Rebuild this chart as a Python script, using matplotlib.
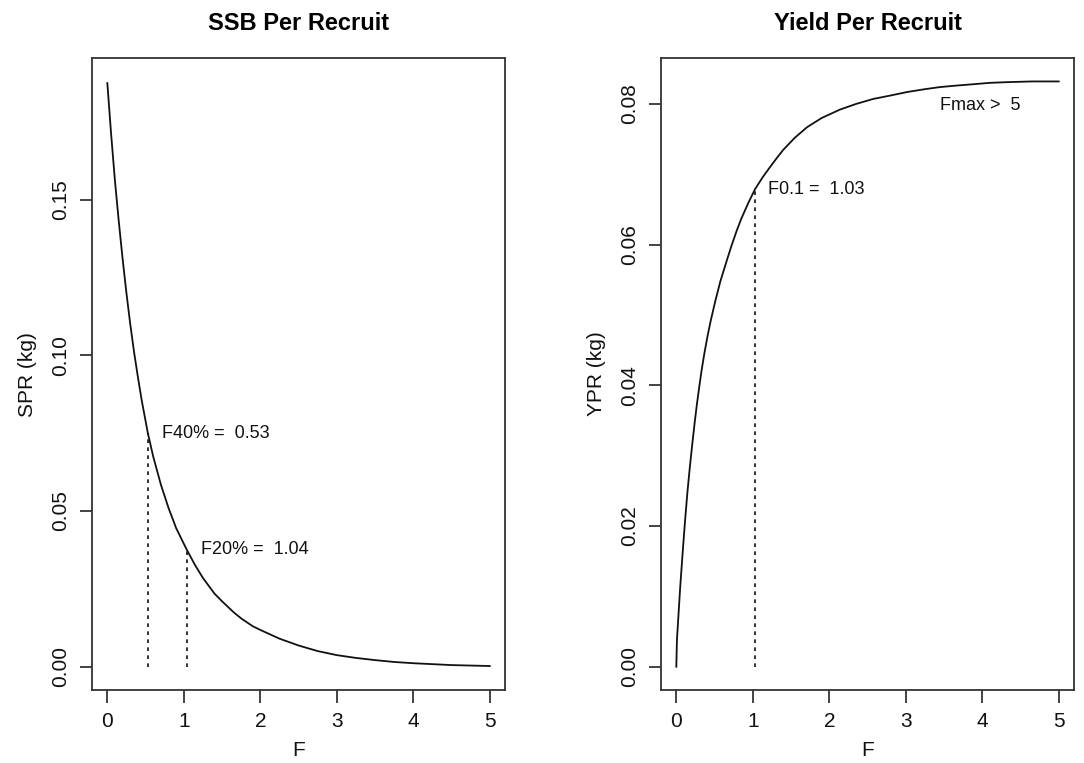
import numpy as np
import matplotlib
matplotlib.use("Agg")
import matplotlib.pyplot as plt

plt.rcParams['font.family'] = ['Liberation Sans', 'DejaVu Sans']

# SSB per recruit curve
F_spr = [0, 0.05, 0.1, 0.15, 0.2, 0.25, 0.3, 0.35, 0.4, 0.45, 0.53, 0.6,
         0.7, 0.8, 0.9, 1.04, 1.15, 1.25, 1.4, 1.5, 1.65, 1.75, 1.9, 2.0,
         2.25, 2.5, 2.75, 3.0, 3.25, 3.5, 3.75, 4.0, 4.5, 5.0]
spr = [0.1875, 0.171, 0.156, 0.143, 0.131, 0.120, 0.110, 0.101, 0.093,
       0.0855, 0.075, 0.0675, 0.0585, 0.051, 0.0445, 0.0375, 0.0325,
       0.0285, 0.0235, 0.021, 0.0175, 0.0155, 0.013, 0.0118, 0.0090,
       0.0068, 0.0050, 0.0037, 0.0028, 0.0021, 0.0015, 0.0011, 0.0005,
       0.0002]

# yield per recruit curve
F_ypr = [0, 0.008, 0.025, 0.05, 0.08, 0.113, 0.145, 0.177, 0.21, 0.24,
         0.27, 0.30, 0.33, 0.366, 0.41, 0.45, 0.51, 0.576, 0.65, 0.72,
         0.79, 0.85, 0.94, 1.03, 1.13, 1.23, 1.32, 1.40, 1.55, 1.71, 1.9,
         2.14, 2.35, 2.57, 2.8, 3.02, 3.25, 3.45, 3.65, 3.88, 4.1, 4.33,
         4.65, 5.0]
ypr = [0, 0.0038, 0.0068, 0.0112, 0.0158, 0.0206, 0.0248, 0.0284, 0.0318,
       0.0347, 0.0374, 0.0398, 0.0421, 0.0445, 0.0471, 0.0492, 0.0520,
       0.0548, 0.0574, 0.0598, 0.0620, 0.0637, 0.0659, 0.0679, 0.0696,
       0.0711, 0.0724, 0.0735, 0.0752, 0.0767, 0.0780, 0.0792, 0.0800,
       0.0807, 0.0812, 0.0817, 0.0821, 0.0824, 0.0826, 0.0828, 0.0830,
       0.0831, 0.0832, 0.0832]

# reference points
F40, spr40 = 0.53, 0.075
F20, spr20 = 1.04, 0.0375
F01, ypr01 = 1.03, 0.0679
fmax_pos = (3.45, 0.0798)

fig = plt.figure(figsize=(10.84, 7.63), dpi=100)
ax1 = fig.add_axes([0.0849, 0.0957, 0.381, 0.828])
ax2 = fig.add_axes([0.6098, 0.0957, 0.381, 0.828])

ink = '#111111'
dots = (0, (2.2, 2.6))

for ax in (ax1, ax2):
    ax.set_xlim(-0.2, 5.2)
    ax.set_xticks([0, 1, 2, 3, 4, 5])
    ax.tick_params(direction='out', length=9, width=1.1, pad=7,
                   labelsize=15, colors=ink)
    ax.tick_params(axis='y', labelrotation=90)
    for s in ax.spines.values():
        s.set_linewidth(1.3)
        s.set_color('#333333')
    ax.set_xlabel('F', fontsize=15, color=ink, labelpad=7)

# left panel
ax1.plot(F_spr, spr, color=ink, lw=1.3)
ax1.plot([F40, F40], [0, spr40], color=ink, lw=1.2, ls=dots)
ax1.plot([F20, F20], [0, spr20], color=ink, lw=1.2, ls=dots)
ax1.annotate('F40% =  0.53', (F40, spr40), xytext=(10, 0),
             textcoords='offset points', va='center', fontsize=13, color=ink)
ax1.annotate('F20% =  1.04', (F20, spr20), xytext=(10, 0),
             textcoords='offset points', va='center', fontsize=13, color=ink)
ax1.set_ylim(-0.0075, 0.1955)
ax1.set_yticks([0, 0.05, 0.10, 0.15])
ax1.set_yticklabels(['0.00', '0.05', '0.10', '0.15'], va='center')
ax1.set_ylabel('SPR (kg)', fontsize=15, color=ink, labelpad=10)
ax1.set_title('SSB Per Recruit', fontsize=17, fontweight='bold', pad=20)

# right panel
ax2.plot(F_ypr, ypr, color=ink, lw=1.3)
ax2.plot([F01, F01], [0, ypr01], color=ink, lw=1.2, ls=dots)
ax2.annotate('F0.1 =  1.03', (F01, ypr01), xytext=(9, 0),
             textcoords='offset points', va='center', fontsize=13, color=ink)
ax2.text(fmax_pos[0], fmax_pos[1], 'Fmax >  5', va='center', ha='left',
         fontsize=13, color=ink)
ax2.set_ylim(-0.0033, 0.0865)
ax2.set_yticks([0, 0.02, 0.04, 0.06, 0.08])
ax2.set_yticklabels(['0.00', '0.02', '0.04', '0.06', '0.08'], va='center')
ax2.set_ylabel('YPR (kg)', fontsize=15, color=ink, labelpad=10)
ax2.set_title('Yield Per Recruit', fontsize=17, fontweight='bold', pad=20)

fig.savefig('out.png', dpi=100)
